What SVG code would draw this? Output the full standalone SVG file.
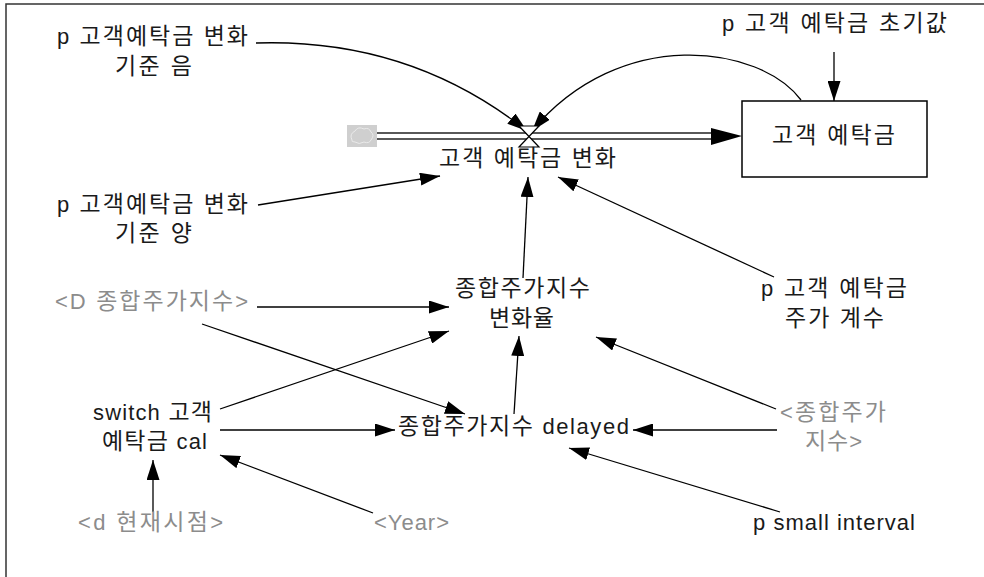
<svg xmlns="http://www.w3.org/2000/svg" width="984" height="577" viewBox="0 0 984 577">
<style>
text{font-family:"Liberation Sans","Noto Sans CJK KR",sans-serif;font-size:23px;fill:#1a1a1a;text-anchor:middle;}
text.sh{fill:#8c8c8c;}
tspan.l{font-size:22px;}
.ln{fill:none;stroke:#000;stroke-width:1.3;}
.ar{marker-end:url(#ah);}
</style>
<defs>
<marker id="ah" markerUnits="userSpaceOnUse" viewBox="0 0 20 13" refX="20" refY="6.5" markerWidth="20" markerHeight="13" orient="auto">
<path d="M0,0 L20,6.5 L0,13 Z" fill="#000"/>
</marker>
</defs>
<rect width="984" height="577" fill="#fff"/>
<path d="M6,577 V4 H984" fill="none" stroke="#333" stroke-width="1.5"/>

<g id="connectors">
<path class="ln ar" d="M256,43 Q410,38 527,131"/>
<path class="ln ar" d="M801,100 C760,45 620,25 532,131"/>
<path class="ln ar" d="M834,52 L834,101"/>
<path class="ln ar" d="M258,205 L440,176"/>
<path class="ln ar" d="M257,307 L449,307"/>
<path class="ln ar" d="M202,324 L465,414"/>
<path class="ln ar" d="M523,278 L528,177"/>
<path class="ln ar" d="M774,277 L558,177"/>
<path class="ln ar" d="M220,409 L449,331"/>
<path class="ln ar" d="M220,430 L395,430"/>
<path class="ln ar" d="M514,414 L519,336"/>
<path class="ln ar" d="M776,409 L596,337"/>
<path class="ln ar" d="M777,430 L633,430"/>
<path class="ln ar" d="M780,512 L569,448"/>
<path class="ln ar" d="M153,512 L153,460"/>
<path class="ln ar" d="M373,513 L220,455"/>
</g>

<g id="flow">
<rect x="347" y="125" width="30" height="22" fill="#cfcfcf"/>
<path d="M352,140 q-3,-6 3,-9 q3,-5 9,-2 q5,-2 7,3 q4,3 0,8 q-2,4 -7,2 q-5,3 -9,0 q-4,0 -3,-2 z" fill="none" stroke="#eaeaea" stroke-width="1"/>
<path d="M377,133 H712 M377,139 H712" fill="none" stroke="#222" stroke-width="1.5"/>
<path d="M711,128 L742,136 L711,145 Z" fill="#000"/>
<path d="M519,126 H539 L519,147 H539 Z" fill="#fff" stroke="#000" stroke-width="1.2"/>
<text x="527.5" y="166" textLength="177" lengthAdjust="spacing">고객 예탁금 변화</text>
</g>

<g id="stock">
<rect x="742" y="101" width="185" height="76" fill="#fff" stroke="#000" stroke-width="1.5"/>
<text x="833.5" y="143" textLength="123" lengthAdjust="spacing">고객 예탁금</text>
</g>

<g id="init">
<text x="834.5" y="31" textLength="225" lengthAdjust="spacing"><tspan class="l">p</tspan> 고객 예탁금 초기값</text>
</g>

<g id="neg">
<text x="152.5" y="44" textLength="191" lengthAdjust="spacing"><tspan class="l">p</tspan> 고객예탁금 변화</text>
<text x="153.5" y="74" textLength="77" lengthAdjust="spacing">기준 음</text>
</g>

<g id="pos">
<text x="152.5" y="212" textLength="191" lengthAdjust="spacing"><tspan class="l">p</tspan> 고객예탁금 변화</text>
<text x="153.5" y="241" textLength="77" lengthAdjust="spacing">기준 양</text>
</g>

<g id="dindex">
<text class="sh" x="151.5" y="309" textLength="193" lengthAdjust="spacing"><tspan class="l">&lt;D</tspan> 종합주가지수<tspan class="l">&gt;</tspan></text>
</g>

<g id="rate">
<text x="522.5" y="296" textLength="135" lengthAdjust="spacing">종합주가지수</text>
<text x="521.5" y="326" textLength="65" lengthAdjust="spacing">변화율</text>
</g>

<g id="coef">
<text x="834" y="296" textLength="146" lengthAdjust="spacing"><tspan class="l">p</tspan> 고객 예탁금</text>
<text x="834.5" y="326" textLength="99" lengthAdjust="spacing">주가 계수</text>
</g>

<g id="switch">
<text x="152.5" y="420" textLength="119" lengthAdjust="spacing"><tspan class="l">switch</tspan> 고객</text>
<text x="154.5" y="449" textLength="105" lengthAdjust="spacing">예탁금 <tspan class="l">cal</tspan></text>
</g>

<g id="delayed">
<text x="513.5" y="434" textLength="231" lengthAdjust="spacing">종합주가지수 <tspan class="l">delayed</tspan></text>
</g>

<g id="index">
<text class="sh" x="833" y="420" textLength="106" lengthAdjust="spacing"><tspan class="l">&lt;</tspan>종합주가</text>
<text class="sh" x="833.5" y="449" textLength="57" lengthAdjust="spacing">지수<tspan class="l">&gt;</tspan></text>
</g>

<g id="interval">
<text x="834" y="530" textLength="162" lengthAdjust="spacing"><tspan class="l">p small interval</tspan></text>
</g>

<g id="now">
<text class="sh" x="150.5" y="530" textLength="145" lengthAdjust="spacing"><tspan class="l">&lt;d</tspan> 현재시점<tspan class="l">&gt;</tspan></text>
</g>

<g id="year">
<text class="sh" x="411.5" y="530" textLength="75" lengthAdjust="spacing"><tspan class="l">&lt;Year&gt;</tspan></text>
</g>
</svg>
